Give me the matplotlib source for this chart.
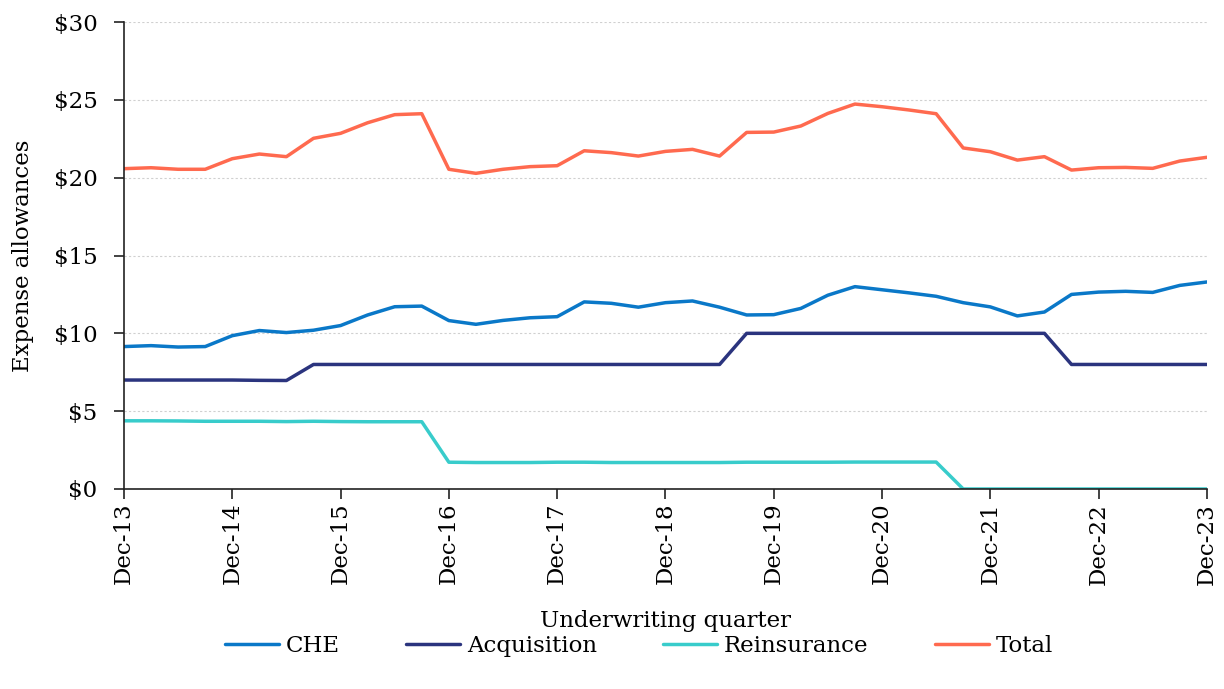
import matplotlib
matplotlib.use("Agg")
import matplotlib.pyplot as plt

quarters = list(range(41))
tick_positions = [0, 4, 8, 12, 16, 20, 24, 28, 32, 36, 40]
tick_labels = ["Dec-13", "Dec-14", "Dec-15", "Dec-16", "Dec-17", "Dec-18",
               "Dec-19", "Dec-20", "Dec-21", "Dec-22", "Dec-23"]

che = [9.15, 9.21, 9.12, 9.15, 9.85, 10.18, 10.05, 10.20, 10.50, 11.18,
       11.71, 11.75, 10.82, 10.58, 10.83, 11.00, 11.07, 12.02, 11.93, 11.68,
       11.97, 12.08, 11.68, 11.18, 11.20, 11.60, 12.45, 13.00, 12.80, 12.60,
       12.38, 11.97, 11.70, 11.12, 11.37, 12.50, 12.65, 12.70, 12.63, 13.08,
       13.30]
acquisition = [7.0, 7.0, 7.0, 7.0, 7.0, 6.98, 6.97, 8.0, 8.0, 8.0,
               8.0, 8.0, 8.0, 8.0, 8.0, 8.0, 8.0, 8.0, 8.0, 8.0,
               8.0, 8.0, 8.0, 10.0, 10.0, 10.0, 10.0, 10.0, 10.0, 10.0,
               10.0, 10.0, 10.0, 10.0, 10.0, 8.0, 8.0, 8.0, 8.0, 8.0,
               8.0]
reinsurance = [4.38, 4.38, 4.37, 4.35, 4.35, 4.35, 4.33, 4.35, 4.33, 4.32,
               4.32, 4.32, 1.72, 1.70, 1.70, 1.70, 1.72, 1.72, 1.70, 1.70,
               1.70, 1.70, 1.70, 1.72, 1.72, 1.72, 1.72, 1.73, 1.73, 1.73,
               1.73, 0.0, 0.0, 0.0, 0.0, 0.0, 0.0, 0.0, 0.0, 0.0,
               0.0]
total = [20.58, 20.64, 20.54, 20.54, 21.22, 21.52, 21.35, 22.53, 22.85, 23.53,
         24.05, 24.11, 20.54, 20.28, 20.54, 20.71, 20.77, 21.73, 21.61, 21.39,
         21.69, 21.82, 21.39, 22.91, 22.93, 23.32, 24.13, 24.73, 24.56, 24.35,
         24.11, 21.91, 21.67, 21.13, 21.35, 20.49, 20.64, 20.66, 20.60, 21.07,
         21.31]

y_ticks = [0, 5, 10, 15, 20, 25, 30]
y_labels = ["$0", "$5", "$10", "$15", "$20", "$25", "$30"]

series = [("CHE", che, "#0a78c8"),
          ("Acquisition", acquisition, "#2b347e"),
          ("Reinsurance", reinsurance, "#38cccb"),
          ("Total", total, "#ff6a4f")]

plt.rcParams['font.family'] = ['DejaVu Serif']
fs = 16.5

fig = plt.figure(figsize=(12.24, 6.89), dpi=100)
ax = fig.add_axes([0.1013, 0.2903, 0.8847, 0.6777])

for name, vals, col in series:
    ax.plot(quarters, vals, color=col, lw=2.5, label=name, solid_capstyle='round')

ax.set_xlim(0, 40)
ax.set_ylim(0, 30)
ax.set_yticks(y_ticks)
ax.set_yticklabels(y_labels, fontsize=fs)
ax.set_xticks(tick_positions)
ax.set_xticklabels(tick_labels, rotation=90, fontsize=fs)
ax.tick_params(axis='both', direction='out', length=7, width=1.2, color='#222222')
ax.tick_params(axis='y', pad=12)
ax.tick_params(axis='x', pad=3)
ax.yaxis.grid(True, linestyle=(0, (2, 2)), color='#d0d0d0', lw=0.8)
ax.set_axisbelow(True)
for s in ['top', 'right']:
    ax.spines[s].set_visible(False)
for s in ['left', 'bottom']:
    ax.spines[s].set_color('#222222')
    ax.spines[s].set_linewidth(1.2)

ax.set_ylabel("Expense allowances", fontsize=fs, labelpad=14)
ax.set_xlabel("Underwriting quarter", fontsize=fs, labelpad=18)

fig.legend(loc='center', bbox_to_anchor=(0.522, 0.062), ncol=4, frameon=False,
           fontsize=fs, handlelength=2.35, columnspacing=2.9, handletextpad=0.3)

fig.savefig("out.png", dpi=100)
